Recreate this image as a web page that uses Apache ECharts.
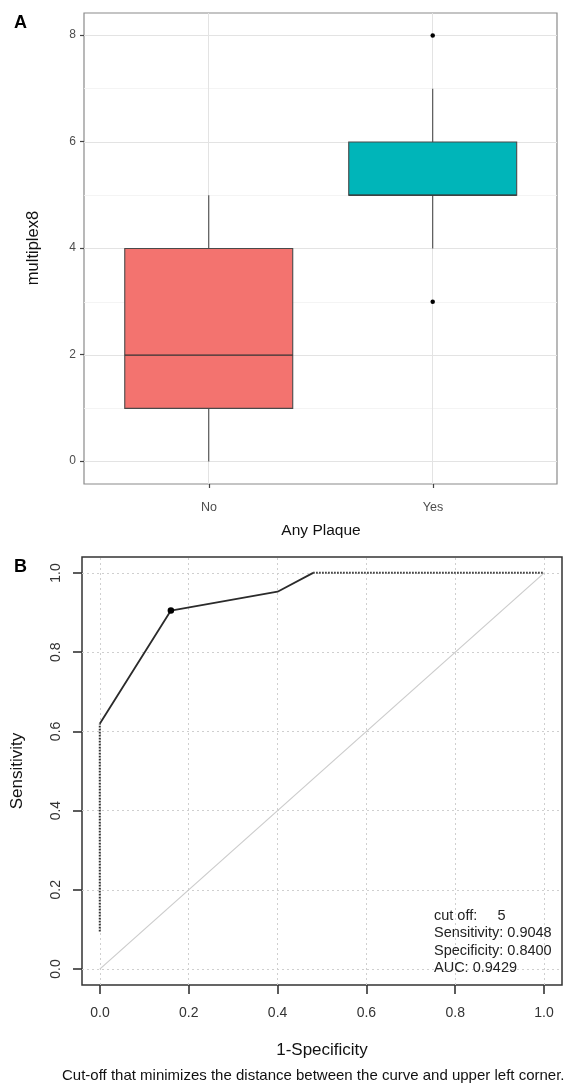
<!DOCTYPE html>
<html><head><meta charset="utf-8">
<script src="https://cdn.jsdelivr.net/npm/echarts@6/dist/echarts.min.js"></script>
<style>html,body{margin:0;padding:0;background:#fff}#c{width:565px;height:1085px}</style>
</head><body><div id="c"></div>
<script>
// ---------- Panel A data ----------
const groups = ['No', 'Yes'];
const boxMin = [0, 4];
const boxQ1 = [1, 5];
const boxMed = [2, 5];
const boxQ3 = [4, 6];
const boxMax = [5, 7];
const outlierGroup = ['Yes', 'Yes'];
const outlierValue = [8, 3];
const yTicksA = [0, 2, 4, 6, 8];
const yMinorA = [1, 3, 5, 7];
// ---------- Panel B data ----------
const rocFpr = [0, 0, 0.16, 0.40, 0.48, 1.0];
const rocSens = [0.0952, 0.6190, 0.9048, 0.9524, 1.0, 1.0];
const cutFpr = [0.16];
const cutSens = [0.9048];
const chanceX = [0, 1];
const chanceY = [0, 1];
const ticksB = [0, 0.2, 0.4, 0.6, 0.8, 1.0];
const legendLines = ['cut off:     5', 'Sensitivity: 0.9048', 'Specificity: 0.8400', 'AUC: 0.9429'];
const caption = 'Cut-off that minimizes the distance between the curve and upper left corner.';

// styles
const boxColors = ['#F3736F', '#00B5B9'];
const FONT = '"Liberation Sans", Arial, sans-serif';

const chart = echarts.init(document.getElementById('c'), null, {renderer: 'canvas'});

const pts = (xs, ys, a, b) => xs.slice(a, b).map((x, i) => [x, ys[a + i]]);

const option = {
  animation: false,
  backgroundColor: '#fff',
  textStyle: {fontFamily: FONT},
  title: [
    {text: 'A', left: 9, top: 9, textStyle: {fontSize: 18, fontWeight: 'bold', color: '#000', fontFamily: FONT}},
    {text: 'B', left: 9, top: 553, textStyle: {fontSize: 18, fontWeight: 'bold', color: '#000', fontFamily: FONT}},
    {text: legendLines.join('\n'), left: 434, top: 907, padding: 0,
     textStyle: {fontSize: 14.5, fontWeight: 'normal', color: '#222', lineHeight: 17.4, fontFamily: FONT}},
    {text: caption, left: 62, top: 1068, padding: 0,
     textStyle: {fontSize: 15, fontWeight: 'normal', color: '#111', fontFamily: FONT}}
  ],
  grid: [
    // 0: panel A frame
    {left: 84, top: 13, width: 473, height: 471, show: true, borderColor: '#8a8a8a', borderWidth: 1.2, backgroundColor: 'transparent'},
    // 1: panel A y ticks
    {left: 84, top: 35, width: 473, height: 426},
    // 2: panel A x categories
    {left: 209, top: 13, width: 224, height: 471},
    // 3: panel B frame
    {left: 82, top: 557, width: 480, height: 428, show: true, borderColor: '#333', borderWidth: 1.5, backgroundColor: 'transparent'},
    // 4: panel B ticks
    {left: 100, top: 573, width: 444, height: 396}
  ],
  xAxis: [
    {gridIndex: 0, type: 'value', min: 0.443, max: 2.555, show: false},
    {gridIndex: 1, type: 'value', min: 0, max: 1, show: false},
    {gridIndex: 2, type: 'category', data: groups, boundaryGap: false,
     axisLine: {show: false, onZero: false}, axisTick: {show: true, length: 4, lineStyle: {color: '#444', width: 1.2}},
     axisLabel: {color: '#4d4d4d', fontSize: 12.5, margin: 17, fontFamily: FONT},
     splitLine: {show: false},
     name: 'Any Plaque', nameLocation: 'middle', nameGap: 39,
     nameTextStyle: {fontSize: 15.5, color: '#111', fontFamily: FONT}},
    {gridIndex: 3, type: 'value', min: -0.04, max: 1.04, show: false},
    {gridIndex: 4, type: 'value', min: 0, max: 1, interval: 0.2, offset: 16,
     axisLine: {show: false, onZero: false}, axisTick: {show: true, length: 9, lineStyle: {color: '#333', width: 1.6}},
     axisLabel: {color: '#333', fontSize: 14, margin: 21, fontFamily: FONT, formatter: v => v.toFixed(1)},
     splitLine: {show: false},
     name: '1-Specificity', nameLocation: 'middle', nameGap: 57,
     nameTextStyle: {fontSize: 17, color: '#111', fontFamily: FONT}}
  ],
  yAxis: [
    {gridIndex: 0, type: 'value', min: -0.42, max: 8.42, show: false},
    {gridIndex: 1, type: 'value', min: 0, max: 8, interval: 2,
     axisLine: {show: false, onZero: false}, axisTick: {show: true, length: 4, lineStyle: {color: '#444', width: 1.2}},
     axisLabel: {color: '#4d4d4d', fontSize: 12, margin: 8, fontFamily: FONT},
     splitLine: {show: false},
     name: 'multiplex8', nameLocation: 'middle', nameGap: 42, nameRotate: 90,
     nameTextStyle: {fontSize: 16.5, color: '#111', fontFamily: FONT}},
    {gridIndex: 2, type: 'value', min: 0, max: 1, show: false},
    {gridIndex: 3, type: 'value', min: -0.04, max: 1.04, show: false},
    {gridIndex: 4, type: 'value', min: 0, max: 1, interval: 0.2, offset: 18,
     axisLine: {show: false, onZero: false}, axisTick: {show: true, length: 9, lineStyle: {color: '#333', width: 1.6}},
     axisLabel: {color: '#333', fontSize: 14, margin: 19, rotate: 90, fontFamily: FONT, formatter: v => v.toFixed(1)},
     splitLine: {show: false},
     name: 'Sensitivity', nameLocation: 'middle', nameGap: 56, nameRotate: 90,
     nameTextStyle: {fontSize: 17, color: '#111', fontFamily: FONT}}
  ],
  series: [
    // Panel A grid lines
    {type: 'line', xAxisIndex: 0, yAxisIndex: 0, data: [], z: 1,
     markLine: {silent: true, z: 1, symbol: ['none', 'none'], label: {show: false}, animation: false,
       data: [
         ...yMinorA.map(v => ({yAxis: v, lineStyle: {color: '#f1f1f1', width: 0.8, type: 'solid'}})),
         ...yTicksA.map(v => ({yAxis: v, lineStyle: {color: '#e3e3e3', width: 1, type: 'solid'}})),
         ...groups.map((g, i) => ({xAxis: i + 1, lineStyle: {color: '#e3e3e3', width: 1, type: 'solid'}}))
       ]}},
    // Panel A boxes
    {type: 'custom', xAxisIndex: 0, yAxisIndex: 0, z: 10,
     data: groups.map((g, i) => [i + 1, boxMin[i], boxQ1[i], boxMed[i], boxQ3[i], boxMax[i]]),
     renderItem: function (params, api) {
       const x = api.value(0);
       const pMin = api.coord([x, api.value(1)]);
       const pQ1 = api.coord([x, api.value(2)]);
       const pMed = api.coord([x, api.value(3)]);
       const pQ3 = api.coord([x, api.value(4)]);
       const pMax = api.coord([x, api.value(5)]);
       const hw = api.size([0.75, 0])[0] / 2;
       const stroke = {stroke: '#4a4a4a', lineWidth: 1.1};
       return {type: 'group', children: [
         {type: 'line', shape: {x1: pMin[0], y1: pMin[1], x2: pQ1[0], y2: pQ1[1]}, style: stroke},
         {type: 'line', shape: {x1: pQ3[0], y1: pQ3[1], x2: pMax[0], y2: pMax[1]}, style: stroke},
         {type: 'rect', shape: {x: pQ3[0] - hw, y: pQ3[1], width: hw * 2, height: pQ1[1] - pQ3[1]},
          style: {fill: boxColors[params.dataIndex], stroke: '#4a4a4a', lineWidth: 1.1}},
         {type: 'line', shape: {x1: pMed[0] - hw, y1: pMed[1], x2: pMed[0] + hw, y2: pMed[1]}, style: {stroke: '#333', lineWidth: 1.3}}
       ]};
     }},
    // Panel A outliers
    {type: 'scatter', xAxisIndex: 0, yAxisIndex: 0, z: 11, symbol: 'circle', symbolSize: 4.5,
     itemStyle: {color: '#000', opacity: 1},
     data: outlierGroup.map((g, i) => [groups.indexOf(g) + 1, outlierValue[i]])},
    // Panel B grid lines
    {type: 'line', xAxisIndex: 3, yAxisIndex: 3, data: [], z: 1,
     markLine: {silent: true, z: 1, symbol: ['none', 'none'], label: {show: false}, animation: false,
       data: [
         ...ticksB.map(v => ({xAxis: v, lineStyle: {color: '#cfcfcf', width: 1, type: [2, 3]}})),
         ...ticksB.map(v => ({yAxis: v, lineStyle: {color: '#cfcfcf', width: 1, type: [2, 3]}}))
       ]}},
    // Chance diagonal
    {type: 'line', xAxisIndex: 3, yAxisIndex: 3, z: 8, symbol: 'none',
     lineStyle: {color: '#cccccc', width: 1.2}, data: pts(chanceX, chanceY, 0, 2)},
    // ROC dotted start
    {type: 'line', xAxisIndex: 3, yAxisIndex: 3, z: 10, symbol: 'none',
     lineStyle: {color: '#333', width: 2, type: [1.6, 1.4]}, data: pts(rocFpr, rocSens, 0, 2)},
    // ROC solid
    {type: 'line', xAxisIndex: 3, yAxisIndex: 3, z: 10, symbol: 'none',
     lineStyle: {color: '#2b2b2b', width: 1.8}, data: pts(rocFpr, rocSens, 1, 5)},
    // ROC dotted end
    {type: 'line', xAxisIndex: 3, yAxisIndex: 3, z: 10, symbol: 'none',
     lineStyle: {color: '#333', width: 2, type: [1.6, 1.4]}, data: pts(rocFpr, rocSens, 4, 6)},
    // cut-off point
    {type: 'scatter', xAxisIndex: 3, yAxisIndex: 3, z: 11, symbol: 'circle', symbolSize: 6.5,
     itemStyle: {color: '#000', opacity: 1}, data: cutFpr.map((x, i) => [x, cutSens[i]])}
  ]
};
chart.setOption(option);
</script></body></html>
